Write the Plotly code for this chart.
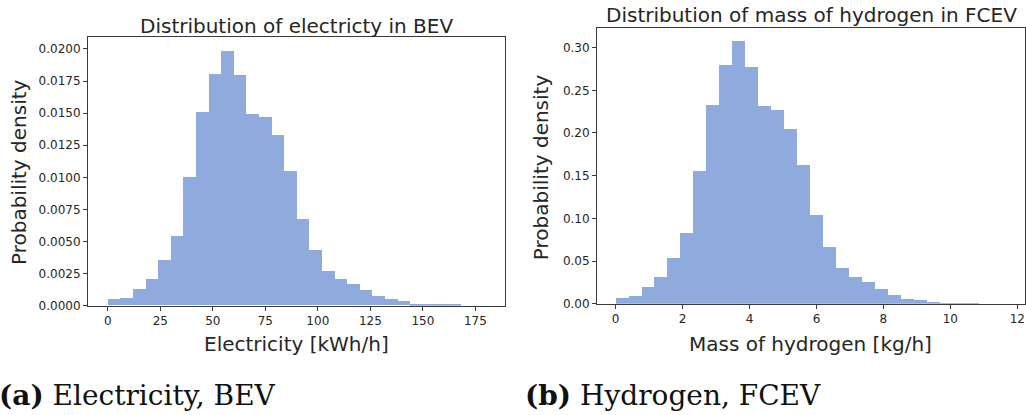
import plotly.graph_objects as go

# Histogram of electricity demand per BEV (density, 30 bins of 6 kWh/h starting at 0)
elec_bin_start = 0.0
elec_bin_width = 6.0
elec_density = [
    0.00051, 0.00061, 0.00128, 0.00204, 0.00350, 0.00541, 0.01001, 0.01504,
    0.01801, 0.01982, 0.01793, 0.01494, 0.01466, 0.01326, 0.01047, 0.00674,
    0.00434, 0.00271, 0.00204, 0.00166, 0.00120, 0.00072, 0.00046, 0.00033,
    0.00013, 0.00010, 0.00010, 0.00010, 0.0, 0.0,
]

# Histogram of hydrogen mass per FCEV (density, 30 bins of ~0.387 kg/h starting at 0)
h2_bin_start = 0.0
h2_bin_width = 0.3873
h2_density = [
    0.0077, 0.0096, 0.0200, 0.0315, 0.0542, 0.0837, 0.1556, 0.2336,
    0.2797, 0.3077, 0.2781, 0.2324, 0.2278, 0.2055, 0.1625, 0.1045,
    0.0676, 0.0423, 0.0319, 0.0261, 0.0184, 0.0111, 0.0065, 0.0054,
    0.0023, 0.0019, 0.0019, 0.0019, 0.0, 0.0,
]

titles = ["Distribution of electricty in BEV", "Distribution of mass of hydrogen in FCEV"]
x_labels = ["Electricity [kWh/h]", "Mass of hydrogen [kg/h]"]
y_label = "Probability density"
captions = [("(a)", "Electricity, BEV"), ("(b)", "Hydrogen, FCEV")]

BAR = "#8FAADC"
INK = "#262626"
FRAME = "#3a3a3a"
SANS = "DejaVu Sans"
SERIF = "DejaVu Serif"

W, H = 1026, 415


def centers(start, width, n):
    return [start + width * (i + 0.5) for i in range(n)]


fig = go.Figure()
fig.add_trace(go.Bar(
    x=centers(elec_bin_start, elec_bin_width, len(elec_density)),
    y=elec_density, width=elec_bin_width,
    marker=dict(color=BAR, line=dict(width=0)),
    xaxis="x", yaxis="y", showlegend=False,
))
fig.add_trace(go.Bar(
    x=centers(h2_bin_start, h2_bin_width, len(h2_density)),
    y=h2_density, width=h2_bin_width,
    marker=dict(color=BAR, line=dict(width=0)),
    xaxis="x2", yaxis="y2", showlegend=False,
))

# pixel boxes of the two panels (left, top, right, bottom)
boxes = [(88, 38, 505, 311), (597, 28, 1025, 309)]


def px_dom_x(a, b):
    return [a / W, b / W]


def px_dom_y(top, bottom):
    return [(H - bottom) / H, (H - top) / H]


axis_common = dict(
    showline=True, linecolor=FRAME, linewidth=1, mirror=True,
    ticks="outside", ticklen=4, tickwidth=1, tickcolor=FRAME,
    showgrid=False, zeroline=False,
    tickfont=dict(family=SANS, size=12, color=INK),
)

fig.update_layout(
    width=W, height=H,
    margin=dict(l=0, r=0, t=0, b=0),
    paper_bgcolor="white", plot_bgcolor="white",
    bargap=0,
    xaxis=dict(domain=px_dom_x(boxes[0][0], boxes[0][2]), range=[-9.4, 189.1],
               dtick=25, tick0=0, anchor="y", **axis_common),
    yaxis=dict(domain=px_dom_y(boxes[0][1], boxes[0][3]), range=[0, 0.0209],
               dtick=0.0025, tick0=0, tickformat=".4f", anchor="x", **axis_common),
    xaxis2=dict(domain=px_dom_x(boxes[1][0], boxes[1][2]), range=[-0.555, 12.23],
                dtick=2, tick0=0, anchor="y2", **axis_common),
    yaxis2=dict(domain=px_dom_y(boxes[1][1], boxes[1][3]), range=[0, 0.3235],
                dtick=0.05, tick0=0, tickformat=".2f", anchor="x2", **axis_common),
)


def ann(text, x, y, size, family=SANS, angle=0, xanchor="center", color=INK):
    fig.add_annotation(
        text=text, x=x / W, y=(H - y) / H, xref="paper", yref="paper",
        showarrow=False, xanchor=xanchor, yanchor="middle", textangle=angle,
        font=dict(family=family, size=size, color=color),
        borderpad=0,
    )


# panel titles, axis labels
ann(titles[0], 296.5, 26, 20)
ann(titles[1], 811, 15, 20)
ann(x_labels[0], 296, 350, 20)
ann(x_labels[1], 810, 350, 20)
ann(y_label, 19, 175, 20, angle=-90)
ann(y_label, 541, 170, 20, angle=-90)

# sub-figure captions
for (tag, text), x0 in zip(captions, [-2, 524]):
    ann(f"<b>{tag}</b> {text}", x0, 402, 28, family=SERIF, xanchor="left", color="#111")

fig.write_html("out.html")
